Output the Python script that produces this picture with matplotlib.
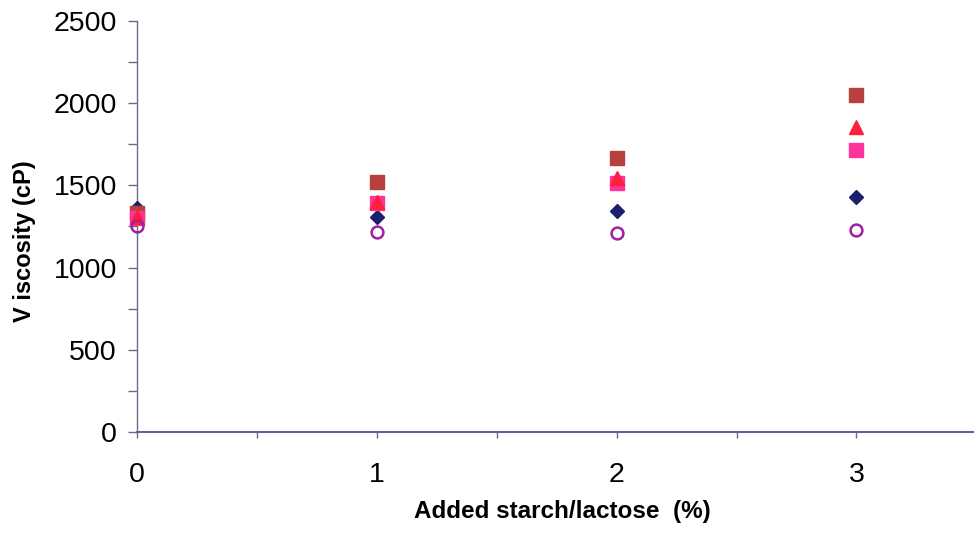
import matplotlib
matplotlib.use("Agg")
import matplotlib.pyplot as plt
from matplotlib.ticker import MultipleLocator

plt.rcParams['font.family'] = ['Liberation Sans', 'DejaVu Sans']

x = [0, 1, 2, 3]
diamond_navy = [1362, 1308, 1344, 1430]
square_dark = [1330, 1518, 1665, 2052]
square_pink = [1300, 1395, 1515, 1712]
triangle_red = [1310, 1400, 1545, 1852]
circle_open = [1253, 1217, 1208, 1229]

xlabel = "Added starch/lactose  (%)"
ylabel = "V iscosity (cP)"

fig = plt.figure(figsize=(9.74, 5.36), dpi=100)
ax = fig.add_axes([0.1407, 0.194, 0.8593, 0.767])

kw = dict(linestyle='none', clip_on=False)
ax.plot(x, diamond_navy, marker='D', markersize=7.5,
        color='#1c1f6b', zorder=3, **kw)
ax.plot(x, square_dark, marker='s', markersize=10,
        color='#b8403f', zorder=4, **kw)
ax.plot(x, square_pink, marker='s', markersize=10,
        color='#ff339c', zorder=5, **kw)
ax.plot(x, triangle_red, marker='^', markersize=10,
        color='#ff1f3d', zorder=6, **kw)
ax.plot(x, circle_open, marker='o', markersize=8.5,
        markerfacecolor='none', markeredgecolor='#a020a0', markeredgewidth=1.8,
        zorder=7, **kw)

ax.set_xlim(0, 3.49)
ax.set_ylim(0, 2500)
ax.xaxis.set_major_locator(MultipleLocator(1))
ax.xaxis.set_minor_locator(MultipleLocator(0.5))
ax.yaxis.set_major_locator(MultipleLocator(500))
ax.yaxis.set_minor_locator(MultipleLocator(250))

for s in ('top', 'right'):
    ax.spines[s].set_visible(False)
ax.spines['left'].set_color('#6a6a8a')
ax.spines['left'].set_linewidth(1.0)
ax.spines['bottom'].set_color('#5a5aa8')
ax.spines['bottom'].set_linewidth(1.4)
ax.spines['bottom'].set_zorder(1)

ax.tick_params(axis='y', which='both', direction='out', length=6.5, width=1,
               color='#6a6a8a', labelsize=20.5, pad=8)
ax.tick_params(axis='x', which='both', direction='out', length=4.5, width=1,
               color='#6a6a8a', labelsize=20.5, pad=17)

ax.set_xlabel(xlabel, fontsize=17.5, fontweight='bold', labelpad=9)
ax.set_ylabel(ylabel, fontsize=17, fontweight='bold')
ax.yaxis.set_label_coords(-0.121, 0.465)
ax.xaxis.label.set_x(0.508)

fig.savefig("out.png", dpi=100)
